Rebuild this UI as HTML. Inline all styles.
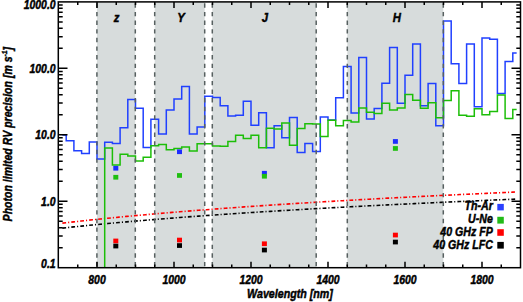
<!DOCTYPE html>
<html><head><meta charset="utf-8"><style>html,body{margin:0;padding:0;background:#fff;overflow:hidden}svg{display:block}</style></head>
<body><svg width="523" height="302" viewBox="0 0 523 302">
<rect width="523" height="302" fill="#fff"/>
<rect x="96.9" y="1.9" width="38.40" height="265.80" fill="#d7dcdc"/>
<rect x="154.7" y="1.9" width="50.00" height="265.80" fill="#d7dcdc"/>
<rect x="212.3" y="1.9" width="103.90" height="265.80" fill="#d7dcdc"/>
<rect x="347.3" y="1.9" width="96.00" height="265.80" fill="#d7dcdc"/>
<path d="M62.35,223.14 L66.14,222.70 L69.92,222.27 L73.71,221.85 L77.49,221.43 L81.28,221.01 L85.06,220.60 L88.85,220.20 L92.64,219.80 L96.42,219.40 L100.21,219.01 L103.99,218.63 L107.78,218.25 L111.57,217.87 L115.35,217.50 L119.14,217.13 L122.92,216.77 L126.71,216.41 L130.50,216.06 L134.28,215.71 L138.07,215.36 L141.85,215.02 L145.64,214.68 L149.42,214.34 L153.21,214.01 L157.00,213.68 L160.78,213.35 L164.57,213.03 L168.35,212.71 L172.14,212.40 L175.93,212.08 L179.71,211.77 L183.50,211.47 L187.28,211.16 L191.07,210.86 L194.85,210.56 L198.64,210.27 L202.43,209.97 L206.21,209.68 L210.00,209.40 L213.78,209.11 L217.57,208.83 L221.35,208.55 L225.14,208.27 L228.93,208.00 L232.71,207.72 L236.50,207.45 L240.28,207.18 L244.07,206.92 L247.86,206.65 L251.64,206.39 L255.43,206.13 L259.21,205.88 L263.00,205.62 L266.78,205.37 L270.57,205.12 L274.36,204.87 L278.14,204.62 L281.93,204.37 L285.71,204.13 L289.50,203.89 L293.29,203.65 L297.07,203.41 L300.86,203.18 L304.64,202.94 L308.43,202.71 L312.22,202.48 L316.00,202.25 L319.79,202.02 L323.57,201.79 L327.36,201.57 L331.14,201.35 L334.93,201.12 L338.72,200.90 L342.50,200.69 L346.29,200.47 L350.07,200.25 L353.86,200.04 L357.64,199.83 L361.43,199.62 L365.22,199.41 L369.00,199.20 L372.79,198.99 L376.57,198.78 L380.36,198.58 L384.15,198.38 L387.93,198.17 L391.72,197.97 L395.50,197.77 L399.29,197.58 L403.07,197.38 L406.86,197.18 L410.65,196.99 L414.43,196.80 L418.22,196.60 L422.00,196.41 L425.79,196.22 L429.58,196.03 L433.36,195.85 L437.15,195.66 L440.93,195.48 L444.72,195.29 L448.50,195.11 L452.29,194.93 L456.08,194.74 L459.86,194.56 L463.65,194.39 L467.43,194.21 L471.22,194.03 L475.01,193.85 L478.79,193.68 L482.58,193.50 L486.36,193.33 L490.15,193.16 L493.94,192.99 L497.72,192.82 L501.51,192.65 L505.29,192.48 L509.08,192.31 L512.86,192.14 L516.65,191.98" fill="none" stroke="#ff0000" stroke-width="1.6" stroke-dasharray="3.8 2.0 1.1 2.1"/>
<path d="M62.35,228.09 L66.14,227.68 L69.92,227.28 L73.71,226.88 L77.49,226.49 L81.28,226.11 L85.06,225.73 L88.85,225.35 L92.64,224.98 L96.42,224.61 L100.21,224.25 L103.99,223.89 L107.78,223.54 L111.57,223.19 L115.35,222.84 L119.14,222.50 L122.92,222.16 L126.71,221.83 L130.50,221.50 L134.28,221.17 L138.07,220.85 L141.85,220.53 L145.64,220.22 L149.42,219.90 L153.21,219.59 L157.00,219.29 L160.78,218.98 L164.57,218.68 L168.35,218.39 L172.14,218.09 L175.93,217.80 L179.71,217.51 L183.50,217.23 L187.28,216.95 L191.07,216.67 L194.85,216.39 L198.64,216.11 L202.43,215.84 L206.21,215.57 L210.00,215.30 L213.78,215.04 L217.57,214.78 L221.35,214.52 L225.14,214.26 L228.93,214.00 L232.71,213.75 L236.50,213.50 L240.28,213.25 L244.07,213.00 L247.86,212.76 L251.64,212.51 L255.43,212.27 L259.21,212.03 L263.00,211.79 L266.78,211.56 L270.57,211.33 L274.36,211.09 L278.14,210.86 L281.93,210.63 L285.71,210.41 L289.50,210.18 L293.29,209.96 L297.07,209.74 L300.86,209.52 L304.64,209.30 L308.43,209.08 L312.22,208.87 L316.00,208.66 L319.79,208.44 L323.57,208.23 L327.36,208.03 L331.14,207.82 L334.93,207.61 L338.72,207.41 L342.50,207.20 L346.29,207.00 L350.07,206.80 L353.86,206.60 L357.64,206.41 L361.43,206.21 L365.22,206.01 L369.00,205.82 L372.79,205.63 L376.57,205.44 L380.36,205.25 L384.15,205.06 L387.93,204.87 L391.72,204.68 L395.50,204.50 L399.29,204.31 L403.07,204.13 L406.86,203.95 L410.65,203.77 L414.43,203.59 L418.22,203.41 L422.00,203.23 L425.79,203.05 L429.58,202.88 L433.36,202.70 L437.15,202.53 L440.93,202.36 L444.72,202.19 L448.50,202.02 L452.29,201.85 L456.08,201.68 L459.86,201.51 L463.65,201.35 L467.43,201.18 L471.22,201.01 L475.01,200.85 L478.79,200.69 L482.58,200.53 L486.36,200.36 L490.15,200.20 L493.94,200.05 L497.72,199.89 L501.51,199.73 L505.29,199.57 L509.08,199.42 L512.86,199.26 L516.65,199.11" fill="none" stroke="#000" stroke-width="1.6" stroke-dasharray="3.8 2.0 1.1 2.1"/>
<path d="M62.35,134.90 L66.20,134.90 L66.20,140.80 L73.90,140.80 L73.90,150.80 L81.60,150.80 L81.60,153.40 L89.30,153.40 L89.30,141.90 L97.00,141.90 L97.00,159.10 L104.70,159.10 L104.70,142.20 L112.40,142.20 L112.40,143.60 L120.10,143.60 L120.10,127.70 L127.80,127.70 L127.80,99.50 L135.50,99.50 L135.50,108.30 L143.20,108.30 L143.20,147.40 L150.90,147.40 L150.90,119.20 L158.60,119.20 L158.60,134.10 L166.30,134.10 L166.30,110.10 L174.00,110.10 L174.00,99.00 L181.70,99.00 L181.70,86.60 L189.40,86.60 L189.40,134.10 L197.10,134.10 L197.10,127.00 L204.80,127.00 L204.80,96.20 L212.50,96.20 L212.50,97.40 L220.20,97.40 L220.20,105.70 L227.90,105.70 L227.90,115.90 L235.60,115.90 L235.60,115.30 L243.30,115.30 L243.30,101.20 L251.00,101.20 L251.00,125.30 L258.70,125.30 L258.70,112.70 L266.40,112.70 L266.40,147.70 L274.10,147.70 L274.10,125.70 L281.80,125.70 L281.80,137.80 L289.50,137.80 L289.50,117.60 L297.20,117.60 L297.20,152.50 L304.90,152.50 L304.90,143.50 L312.60,143.50 L312.60,151.50 L320.30,151.50 L320.30,117.00 L328.00,117.00 L328.00,119.90 L335.70,119.90 L335.70,97.70 L343.40,97.70 L343.40,66.50 L351.10,66.50 L351.10,112.90 L358.80,112.90 L358.80,57.60 L366.50,57.60 L366.50,118.90 L374.20,118.90 L374.20,108.50 L381.90,108.50 L381.90,83.30 L389.60,83.30 L389.60,47.60 L397.30,47.60 L397.30,103.20 L405.00,103.20 L405.00,75.20 L412.70,75.20 L412.70,44.00 L420.40,44.00 L420.40,105.70 L428.10,105.70 L428.10,83.50 L435.80,83.50 L435.80,125.80 L443.50,125.80 L443.50,20.90 L451.20,20.90 L451.20,63.80 L458.90,63.80 L458.90,83.60 L466.60,83.60 L466.60,44.00 L474.30,44.00 L474.30,106.80 L482.00,106.80 L482.00,38.00 L489.70,38.00 L489.70,39.30 L497.40,39.30 L497.40,93.50 L505.10,93.50 L505.10,61.40 L512.80,61.40 L512.80,52.90 L516.65,52.90" fill="none" stroke="#2040ff" stroke-width="1.5" stroke-linejoin="miter"/>
<path d="M104.70,267.70 L104.70,147.90 L112.40,147.90 L112.40,165.10 L120.10,165.10 L120.10,154.20 L127.80,154.20 L127.80,156.10 L135.50,156.10 L135.50,161.10 L143.20,161.10 L143.20,157.30 L150.90,157.30 L150.90,145.70 L158.60,145.70 L158.60,144.40 L166.30,144.40 L166.30,149.70 L174.00,149.70 L174.00,148.50 L181.70,148.50 L181.70,147.00 L189.40,147.00 L189.40,151.10 L197.10,151.10 L197.10,143.70 L204.80,143.70 L204.80,143.70 L212.50,143.70 L212.50,145.90 L220.20,145.90 L220.20,146.20 L227.90,146.20 L227.90,141.60 L235.60,141.60 L235.60,135.30 L243.30,135.30 L243.30,138.50 L251.00,138.50 L251.00,135.30 L258.70,135.30 L258.70,147.70 L266.40,147.70 L266.40,128.30 L274.10,128.30 L274.10,129.10 L281.80,129.10 L281.80,122.90 L289.50,122.90 L289.50,145.20 L297.20,145.20 L297.20,128.50 L304.90,128.50 L304.90,123.80 L312.60,123.80 L312.60,124.00 L320.30,124.00 L320.30,136.40 L328.00,136.40 L328.00,120.20 L335.70,120.20 L335.70,125.70 L343.40,125.70 L343.40,120.40 L351.10,120.40 L351.10,122.00 L358.80,122.00 L358.80,108.00 L366.50,108.00 L366.50,112.30 L374.20,112.30 L374.20,113.60 L381.90,113.60 L381.90,103.20 L389.60,103.20 L389.60,109.90 L397.30,109.90 L397.30,107.90 L405.00,107.90 L405.00,94.60 L412.70,94.60 L412.70,100.30 L420.40,100.30 L420.40,108.30 L428.10,108.30 L428.10,102.70 L435.80,102.70 L435.80,117.80 L443.50,117.80 L443.50,100.60 L451.20,100.60 L451.20,90.80 L458.90,90.80 L458.90,115.30 L466.60,115.30 L466.60,116.20 L474.30,116.20 L474.30,108.80 L482.00,108.80 L482.00,114.80 L489.70,114.80 L489.70,111.40 L497.40,111.40 L497.40,94.90 L505.10,94.90 L505.10,118.40 L512.80,118.40 L512.80,109.40 L516.65,109.40" fill="none" stroke="#1cbe08" stroke-width="1.5" stroke-linejoin="miter"/>
<line x1="96.9" y1="3.3" x2="96.9" y2="267.7" stroke="#576060" stroke-width="1.5" stroke-dasharray="4.4 4.22"/>
<line x1="135.3" y1="3.3" x2="135.3" y2="267.7" stroke="#576060" stroke-width="1.5" stroke-dasharray="4.4 4.22"/>
<line x1="154.7" y1="3.3" x2="154.7" y2="267.7" stroke="#576060" stroke-width="1.5" stroke-dasharray="4.4 4.22"/>
<line x1="204.7" y1="3.3" x2="204.7" y2="267.7" stroke="#576060" stroke-width="1.5" stroke-dasharray="4.4 4.22"/>
<line x1="212.3" y1="3.3" x2="212.3" y2="267.7" stroke="#576060" stroke-width="1.5" stroke-dasharray="4.4 4.22"/>
<line x1="316.2" y1="3.3" x2="316.2" y2="267.7" stroke="#576060" stroke-width="1.5" stroke-dasharray="4.4 4.22"/>
<line x1="347.3" y1="3.3" x2="347.3" y2="267.7" stroke="#576060" stroke-width="1.5" stroke-dasharray="4.4 4.22"/>
<line x1="443.3" y1="3.3" x2="443.3" y2="267.7" stroke="#576060" stroke-width="1.5" stroke-dasharray="4.4 4.22"/>
<rect x="113.30" y="165.9" width="5" height="4.7" fill="#1d2cff"/>
<rect x="113.30" y="174.9" width="5" height="4.7" fill="#1fbf10"/>
<rect x="113.30" y="238.6" width="5" height="4.7" fill="#ff0000"/>
<rect x="113.30" y="243.7" width="5" height="4.7" fill="#000"/>
<rect x="177.00" y="149.4" width="5" height="4.7" fill="#1d2cff"/>
<rect x="177.00" y="173.1" width="5" height="4.7" fill="#1fbf10"/>
<rect x="177.00" y="237.7" width="5" height="4.7" fill="#ff0000"/>
<rect x="177.00" y="243.2" width="5" height="4.7" fill="#000"/>
<rect x="261.90" y="170.9" width="5" height="4.7" fill="#1d2cff"/>
<rect x="261.90" y="173.9" width="5" height="4.7" fill="#1fbf10"/>
<rect x="261.90" y="241.4" width="5" height="4.7" fill="#ff0000"/>
<rect x="261.90" y="247.7" width="5" height="4.7" fill="#000"/>
<rect x="392.90" y="139.1" width="5" height="4.7" fill="#1d2cff"/>
<rect x="392.90" y="146.1" width="5" height="4.7" fill="#1fbf10"/>
<rect x="392.90" y="232.7" width="5" height="4.7" fill="#ff0000"/>
<rect x="392.90" y="239.7" width="5" height="4.7" fill="#000"/>
<rect x="58.3" y="1.9" width="462.20" height="265.80" fill="none" stroke="#000" stroke-width="1.5"/>
<path d="M77.75,1.9v3.2M77.75,267.7v-3.2M97.00,1.9v6M97.00,267.7v-6M116.25,1.9v3.2M116.25,267.7v-3.2M135.50,1.9v3.2M135.50,267.7v-3.2M154.75,1.9v3.2M154.75,267.7v-3.2M174.00,1.9v6M174.00,267.7v-6M193.25,1.9v3.2M193.25,267.7v-3.2M212.50,1.9v3.2M212.50,267.7v-3.2M231.75,1.9v3.2M231.75,267.7v-3.2M251.00,1.9v6M251.00,267.7v-6M270.25,1.9v3.2M270.25,267.7v-3.2M289.50,1.9v3.2M289.50,267.7v-3.2M308.75,1.9v3.2M308.75,267.7v-3.2M328.00,1.9v6M328.00,267.7v-6M347.25,1.9v3.2M347.25,267.7v-3.2M366.50,1.9v3.2M366.50,267.7v-3.2M385.75,1.9v3.2M385.75,267.7v-3.2M405.00,1.9v6M405.00,267.7v-6M424.25,1.9v3.2M424.25,267.7v-3.2M443.50,1.9v3.2M443.50,267.7v-3.2M462.75,1.9v3.2M462.75,267.7v-3.2M482.00,1.9v6M482.00,267.7v-6M501.25,1.9v3.2M501.25,267.7v-3.2M58.5,247.70h4.2M520.5,247.70h-4.2M58.5,236.00h4.2M520.5,236.00h-4.2M58.5,227.69h4.2M520.5,227.69h-4.2M58.5,221.25h4.2M520.5,221.25h-4.2M58.5,215.99h4.2M520.5,215.99h-4.2M58.5,211.54h4.2M520.5,211.54h-4.2M58.5,207.69h4.2M520.5,207.69h-4.2M58.5,204.29h4.2M520.5,204.29h-4.2M58.5,201.25h9M520.5,201.25h-9M58.5,181.25h4.2M520.5,181.25h-4.2M58.5,169.55h4.2M520.5,169.55h-4.2M58.5,161.24h4.2M520.5,161.24h-4.2M58.5,154.80h4.2M520.5,154.80h-4.2M58.5,149.54h4.2M520.5,149.54h-4.2M58.5,145.09h4.2M520.5,145.09h-4.2M58.5,141.24h4.2M520.5,141.24h-4.2M58.5,137.84h4.2M520.5,137.84h-4.2M58.5,134.80h9M520.5,134.80h-9M58.5,114.80h4.2M520.5,114.80h-4.2M58.5,103.10h4.2M520.5,103.10h-4.2M58.5,94.79h4.2M520.5,94.79h-4.2M58.5,88.35h4.2M520.5,88.35h-4.2M58.5,83.09h4.2M520.5,83.09h-4.2M58.5,78.64h4.2M520.5,78.64h-4.2M58.5,74.79h4.2M520.5,74.79h-4.2M58.5,71.39h4.2M520.5,71.39h-4.2M58.5,68.35h9M520.5,68.35h-9M58.5,48.35h4.2M520.5,48.35h-4.2M58.5,36.65h4.2M520.5,36.65h-4.2M58.5,28.34h4.2M520.5,28.34h-4.2M58.5,21.90h4.2M520.5,21.90h-4.2M58.5,16.64h4.2M520.5,16.64h-4.2M58.5,12.19h4.2M520.5,12.19h-4.2M58.5,8.34h4.2M520.5,8.34h-4.2M58.5,4.94h4.2M520.5,4.94h-4.2" stroke="#000" stroke-width="1.5" fill="none"/>
<text x="55.6" y="9.30" font-family="Liberation Sans" font-weight="bold" font-style="italic" stroke="#000" stroke-width="0.45" font-size="12" text-anchor="end" transform="translate(55.6 0) scale(0.87 1) translate(-55.6 0)">1000.0</text>
<text x="55.6" y="72.65" font-family="Liberation Sans" font-weight="bold" font-style="italic" stroke="#000" stroke-width="0.45" font-size="12" text-anchor="end" transform="translate(55.6 0) scale(0.87 1) translate(-55.6 0)">100.0</text>
<text x="55.6" y="139.10" font-family="Liberation Sans" font-weight="bold" font-style="italic" stroke="#000" stroke-width="0.45" font-size="12" text-anchor="end" transform="translate(55.6 0) scale(0.87 1) translate(-55.6 0)">10.0</text>
<text x="55.6" y="205.55" font-family="Liberation Sans" font-weight="bold" font-style="italic" stroke="#000" stroke-width="0.45" font-size="12" text-anchor="end" transform="translate(55.6 0) scale(0.87 1) translate(-55.6 0)">1.0</text>
<text x="55.6" y="268.40" font-family="Liberation Sans" font-weight="bold" font-style="italic" stroke="#000" stroke-width="0.45" font-size="12" text-anchor="end" transform="translate(55.6 0) scale(0.87 1) translate(-55.6 0)">0.1</text>
<text x="97.00" y="284" font-family="Liberation Sans" font-weight="bold" font-style="italic" stroke="#000" stroke-width="0.45" font-size="12" text-anchor="middle" transform="translate(97.00 0) scale(0.87 1) translate(-97.00 0)">800</text>
<text x="174.00" y="284" font-family="Liberation Sans" font-weight="bold" font-style="italic" stroke="#000" stroke-width="0.45" font-size="12" text-anchor="middle" transform="translate(174.00 0) scale(0.87 1) translate(-174.00 0)">1000</text>
<text x="251.00" y="284" font-family="Liberation Sans" font-weight="bold" font-style="italic" stroke="#000" stroke-width="0.45" font-size="12" text-anchor="middle" transform="translate(251.00 0) scale(0.87 1) translate(-251.00 0)">1200</text>
<text x="328.00" y="284" font-family="Liberation Sans" font-weight="bold" font-style="italic" stroke="#000" stroke-width="0.45" font-size="12" text-anchor="middle" transform="translate(328.00 0) scale(0.87 1) translate(-328.00 0)">1400</text>
<text x="405.00" y="284" font-family="Liberation Sans" font-weight="bold" font-style="italic" stroke="#000" stroke-width="0.45" font-size="12" text-anchor="middle" transform="translate(405.00 0) scale(0.87 1) translate(-405.00 0)">1600</text>
<text x="482.00" y="284" font-family="Liberation Sans" font-weight="bold" font-style="italic" stroke="#000" stroke-width="0.45" font-size="12" text-anchor="middle" transform="translate(482.00 0) scale(0.87 1) translate(-482.00 0)">1800</text>
<text x="290" y="297.7" font-family="Liberation Sans" font-weight="bold" font-style="italic" stroke="#000" stroke-width="0.45" font-size="12.4" text-anchor="middle" transform="translate(290 0) scale(0.862 1) translate(-290 0)">Wavelength [nm]</text>
<g transform="translate(12.1 134.15) rotate(-90)"><text x="0" y="0" font-family="Liberation Sans" font-weight="bold" font-style="italic" stroke="#000" stroke-width="0.45" font-size="12.4" text-anchor="middle" transform="scale(0.849 1)">Photon limited RV precision [m s<tspan dy="-4.8" font-size="8">-1</tspan><tspan dy="4.8">]</tspan></text></g>
<text x="116.6" y="22.1" font-family="Liberation Sans" font-weight="bold" font-style="italic" stroke="#000" stroke-width="0.45" font-size="13" text-anchor="middle" transform="translate(116.6 0) scale(0.87 1) translate(-116.6 0)">z</text>
<text x="180.9" y="22.1" font-family="Liberation Sans" font-weight="bold" font-style="italic" stroke="#000" stroke-width="0.45" font-size="13" text-anchor="middle" transform="translate(180.9 0) scale(0.87 1) translate(-180.9 0)">Y</text>
<text x="265.0" y="22.1" font-family="Liberation Sans" font-weight="bold" font-style="italic" stroke="#000" stroke-width="0.45" font-size="13" text-anchor="middle" transform="translate(265.0 0) scale(0.87 1) translate(-265.0 0)">J</text>
<text x="396.9" y="22.1" font-family="Liberation Sans" font-weight="bold" font-style="italic" stroke="#000" stroke-width="0.45" font-size="13" text-anchor="middle" transform="translate(396.9 0) scale(0.87 1) translate(-396.9 0)">H</text>
<text x="492.8" y="210.4" font-family="Liberation Sans" font-weight="bold" font-style="italic" stroke="#000" stroke-width="0.45" font-size="12.2" text-anchor="end" transform="translate(492.8 0) scale(0.87 1) translate(-492.8 0)">Th-Ar</text>
<rect x="497.3" y="203.9" width="6.5" height="6.50" fill="#2a40ff"/>
<text x="492.8" y="222.7" font-family="Liberation Sans" font-weight="bold" font-style="italic" stroke="#000" stroke-width="0.45" font-size="12.2" text-anchor="end" transform="translate(492.8 0) scale(0.87 1) translate(-492.8 0)">U-Ne</text>
<rect x="497.3" y="216.8" width="6.5" height="6.80" fill="#22bb18"/>
<text x="492.8" y="235.9" font-family="Liberation Sans" font-weight="bold" font-style="italic" stroke="#000" stroke-width="0.45" font-size="12.2" text-anchor="end" transform="translate(492.8 0) scale(0.87 1) translate(-492.8 0)">40 GHz FP</text>
<rect x="497.3" y="229.2" width="6.5" height="6.60" fill="#ff0000"/>
<text x="492.8" y="248.6" font-family="Liberation Sans" font-weight="bold" font-style="italic" stroke="#000" stroke-width="0.45" font-size="12.2" text-anchor="end" transform="translate(492.8 0) scale(0.87 1) translate(-492.8 0)">40 GHz LFC</text>
<rect x="497.3" y="241.9" width="6.5" height="6.70" fill="#000"/>
</svg></body></html>
